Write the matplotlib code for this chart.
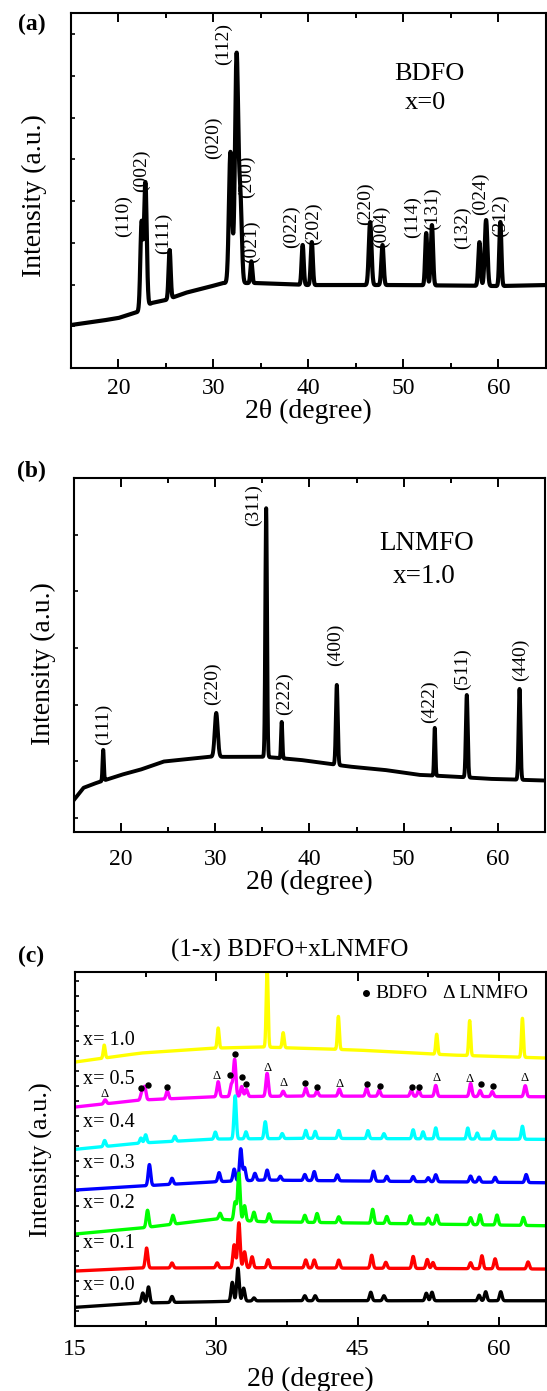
import numpy as np
import matplotlib
matplotlib.use('Agg')
import matplotlib.pyplot as plt
from matplotlib.ticker import MultipleLocator

plt.rcParams['font.family'] = ['Liberation Serif', 'DejaVu Serif']

# 2theta sampling of the patterns
two_theta = np.arange(15, 65.001, 0.01)

# ---------------- (a) BDFO, x = 0 ----------------
a_base_x = [15, 18, 20, 22, 23.5, 25, 27, 29.5, 31, 34.5, 40, 50, 60, 65]
a_base_y = [1031, 1127, 1199, 1343, 1559, 1631, 1799, 1942, 2038, 2038, 1990, 1990, 1966, 1990]
a_pos = [22.45, 22.85, 25.4, 31.8, 32.45, 32.85, 34.0, 39.4, 40.36, 46.5, 47.8, 52.4, 53.0, 58.0, 58.7, 60.2]
a_h = [2069, 2977, 1165, 3142, 5468, 1900, 520, 955, 1030, 1510, 960, 1252, 1445, 1048, 1580, 1534]
a_w = [0.13, 0.14, 0.11, 0.16, 0.17, 0.15, 0.1, 0.11, 0.11, 0.14, 0.12, 0.11, 0.12, 0.12, 0.14, 0.11]
a_hkl = ['(110)', '(002)', '(111)', '(020)', '(112)', '(200)', '(021)', '(022)', '(202)',
         '(220)', '(004)', '(114)', '(131)', '(132)', '(024)', '(312)']
a_hkl_x = [20.5, 22.46, 24.74, 30.0, 31.05, 33.44, 34.04, 38.25, 40.53, 45.97, 47.7, 50.95, 53.1, 56.2, 58.1, 60.2]
a_hkl_y = [3645, 4724, 3237, 5516, 7770, 4580, 3022, 3381, 3465, 3945, 3381, 3628, 3820, 3357, 4189, 3650]

# ---------------- (b) LNMFO, x = 1.0 ----------------
b_base_x = [15, 16, 17.1, 20, 22, 24.5, 29.4, 35.3, 39, 44.2, 47.9, 51.6, 55.3, 59, 65]
b_base_y = [317, 529, 600, 758, 847, 993, 1076, 1076, 1023, 905, 847, 758, 728, 688, 658]
b_pos = [18.1, 30.1, 35.4, 37.05, 42.9, 53.3, 56.7, 62.3]
b_h = [545, 776, 4391, 642, 1412, 843, 1456, 1604]
b_w = [0.07, 0.16, 0.09, 0.07, 0.1, 0.07, 0.1, 0.1]
b_hkl = ['(111)', '(220)', '(311)', '(222)', '(400)', '(422)', '(511)', '(440)']
b_hkl_x = [18.14, 29.73, 34.0, 37.33, 42.78, 52.69, 56.22, 62.35]
b_hkl_y = [1658, 2363, 5520, 2187, 3051, 2046, 2628, 2787]

# ---------------- (c) (1-x) BDFO + x LNMFO ----------------
c_labels = ['x= 1.0', 'x= 0.5', 'x= 0.4', 'x= 0.3', 'x= 0.2', 'x= 0.1', 'x= 0.0']
c_colors = ['#ffff00', '#ff00ff', '#00ffff', '#0000ff', '#00ff00', '#ff0000', '#000000']
c_label_y = [286, 246.5, 204, 163, 123, 83, 41]

c_base_x = [
    [15, 22, 30, 35, 45, 55, 65],
    [15, 22, 30, 40, 65],
    [15, 22, 30, 40, 65],
    [15, 22, 30, 35, 45, 65],
    [15, 22, 30, 35, 45, 65],
    [15, 22, 35, 65],
    [15, 22, 35, 65],
]
c_base_y = [
    [264, 273, 278, 279, 276, 271, 268],
    [219, 226, 229.3, 230, 229.3],
    [176.7, 183, 187, 187.7, 186.7],
    [136, 140, 144.3, 146, 145, 143.3],
    [92, 98, 107, 104.3, 103, 100.3],
    [55, 58, 58.3, 57],
    [18.7, 23, 25.3, 25.3],
]
c_pos = [
    [18.1, 30.2, 35.4, 37.1, 42.96, 53.4, 56.9, 62.5],
    [18.2, 22.1, 22.4, 24.8, 30.2, 31.6, 31.95, 32.7, 33.2, 35.4, 37.1, 39.5, 40.7, 43.06,
     45.96, 47.3, 50.7, 51.5, 53.3, 57.0, 58.0, 59.3, 62.8],
    [18.15, 22.0, 22.5, 25.6, 29.9, 32.0, 33.15, 35.2, 37.0, 39.5, 40.5, 43.0, 46.1, 47.8,
     50.9, 51.95, 53.3, 56.7, 57.7, 59.45, 62.5],
    [22.9, 25.3, 30.3, 31.9, 32.6, 33.0, 34.1, 35.4, 36.8, 39.4, 40.4, 42.85, 46.7, 48.1,
     50.9, 52.5, 53.3, 57.0, 57.9, 59.6, 62.9],
    [22.7, 25.4, 30.4, 32.0, 32.4, 33.0, 34.0, 35.6, 39.4, 40.7, 43.0, 46.6, 48.1, 50.6,
     52.5, 53.4, 57.0, 58.0, 59.8, 62.6],
    [22.6, 25.3, 30.1, 31.9, 32.4, 33.0, 33.8, 35.5, 39.5, 40.4, 43.0, 46.5, 48.0, 50.9,
     52.4, 53.0, 57.0, 58.2, 59.6, 63.1],
    [22.2, 22.8, 25.3, 31.7, 32.3, 32.9, 34.0, 39.4, 40.5, 46.4, 47.8, 52.3, 52.9, 57.9, 58.6, 60.2],
]
c_h = [
    [13, 20, 80, 15, 33, 20, 35, 39],
    [4, 8, 13, 8, 15, 12, 37, 10, 7, 23, 5, 8, 5, 7, 8, 6, 6, 6, 11, 13, 6, 5, 11],
    [6, 5, 8, 5, 7, 43, 7, 17, 5, 8, 7, 8, 8, 5, 9, 7, 11, 11, 6, 8, 13],
    [21, 6, 9, 12, 32, 13, 7, 10, 4, 6, 9, 6, 10, 5, 5, 4, 7, 6, 5, 5, 8],
    [17, 9, 6, 18, 47, 15, 9, 8, 7, 9, 6, 14, 7, 8, 6, 9, 7, 10, 10, 8],
    [20, 5, 5, 23, 45, 16, 11, 8, 8, 8, 8, 13, 6, 12, 9, 6, 6, 13, 10, 7],
    [10, 16, 6, 19, 33, 13, 3, 5, 5, 8.5, 5, 7.5, 8.5, 5.5, 9, 9],
]
c_w = [0.1, 0.13, 0.12, 0.13, 0.13, 0.13, 0.13]

# phase markers on the x = 0.5 pattern
bdfo_dot_x = [22.01, 22.72, 24.8, 31.45, 31.98, 32.69, 33.15, 39.42, 40.73, 45.97, 47.38, 50.74, 51.55, 58.06, 59.4]
bdfo_dot_y = [238.3, 241, 239.3, 251, 272, 248.7, 241.7, 243.3, 239.3, 241.7, 240, 239.3, 239.3, 241.7, 240]
lnmfo_tri_x = [18.18, 30.04, 35.41, 37.11, 43.06, 53.4, 56.93, 62.7]
lnmfo_tri_y = [232, 250, 258, 243, 242, 248.3, 246.7, 247.7]


def pattern(bx, by, pos, h, w):
    y = np.interp(two_theta, bx, by)
    for p, hh, ww in zip(pos, h, np.broadcast_to(w, len(pos))):
        y = y + hh * np.exp(-0.5 * ((two_theta - p) / ww) ** 2)
    return y


def style_axes(ax, major, minor, pad):
    for s in ax.spines.values():
        s.set_linewidth(1.5)
    ax.set_xlim(15, 65)
    ax.xaxis.set_major_locator(MultipleLocator(major))
    ax.xaxis.set_minor_locator(MultipleLocator(minor))
    ax.tick_params(axis='x', which='major', direction='in', length=6.5, width=1.4,
                   top=True, labelsize=17, pad=pad)
    ax.tick_params(axis='x', which='minor', direction='in', length=3.5, width=1.4, top=True)
    ax.tick_params(axis='y', which='both', direction='in', length=3, width=1.2,
                   labelleft=False, right=False)


fig = plt.figure(figsize=(5.47, 13.91), dpi=100)

# ---- (a)
ax1 = fig.add_axes([0.1294, 0.7354, 0.8687, 0.2552])
ax1.plot(two_theta, pattern(a_base_x, a_base_y, a_pos, a_h, a_w), color='black', lw=3.0)
ax1.set_ylim(0, 8510)
ax1.yaxis.set_major_locator(MultipleLocator(1000))
style_axes(ax1, 10, 5, 7)
for t, x, y in zip(a_hkl, a_hkl_x, a_hkl_y):
    ax1.text(x, y, t, rotation=90, ha='center', va='center', fontsize=14)
ax1.text(52.7, 7050, 'BDFO', ha='center', va='center', fontsize=19)
ax1.text(52.3, 6355, 'x=0', ha='center', va='center', fontsize=19)
ax1.set_xlabel('2θ (degree)', fontsize=20, labelpad=0)
ax1.set_ylabel('Intensity (a.u.)', fontsize=20)
ax1.yaxis.set_label_coords(-0.05, 0.485)

# ---- (b)
ax2 = fig.add_axes([0.1353, 0.4019, 0.861, 0.2545])
ax2.plot(two_theta, pattern(b_base_x, b_base_y, b_pos, b_h, b_w), color='black', lw=2.8)
ax2.set_ylim(-250, 6000)
ax2.yaxis.set_major_locator(MultipleLocator(1000))
style_axes(ax2, 10, 5, 12)
for t, x, y in zip(b_hkl, b_hkl_x, b_hkl_y):
    ax2.text(x, y, t, rotation=90, ha='center', va='center', fontsize=14)
ax2.text(52.4, 4850, 'LNMFO', ha='center', va='center', fontsize=19.5)
ax2.text(52.15, 4268, 'x=1.0', ha='center', va='center', fontsize=19.5)
ax2.set_xlabel('2θ (degree)', fontsize=20, labelpad=0)
ax2.set_ylabel('Intensity (a.u.)', fontsize=20)
ax2.yaxis.set_label_coords(-0.038, 0.475)

# ---- (c)
ax3 = fig.add_axes([0.1371, 0.0467, 0.861, 0.2547])
for i in range(len(c_labels)):
    y = pattern(c_base_x[i], c_base_y[i], c_pos[i], c_h[i], c_w[i])
    ax3.plot(two_theta, y, color=c_colors[i], lw=2.4)
    ax3.text(15.85, c_label_y[i], c_labels[i], ha='left', va='center', fontsize=14.5)
ax3.set_ylim(0, 354.3)
ax3.yaxis.set_major_locator(MultipleLocator(45))
ax3.yaxis.set_minor_locator(MultipleLocator(15))
style_axes(ax3, 15, 7.5, 9)
ax3.plot(bdfo_dot_x, bdfo_dot_y, 'o', color='black', ms=3.6)
for x, y in zip(lnmfo_tri_x, lnmfo_tri_y):
    ax3.text(x, y, 'Δ', ha='center', va='center', fontsize=9)
ax3.plot([45.85], [332.7], 'o', color='black', ms=4)
ax3.text(46.85, 332.7, 'BDFO', ha='left', va='center', fontsize=14)
ax3.text(54.07, 332.7, 'Δ LNMFO', ha='left', va='center', fontsize=14)
ax3.set_xlabel('2θ (degree)', fontsize=20, labelpad=5)
ax3.set_ylabel('Intensity (a.u.)', fontsize=19)
ax3.yaxis.set_label_coords(-0.047, 0.469)

# panel letters and title
fig.text(31.4 / 547, 1 - 24 / 1391, '(a)', ha='center', va='center', fontsize=17, fontweight='bold')
fig.text(31.4 / 547, 1 - 471 / 1391, '(b)', ha='center', va='center', fontsize=17, fontweight='bold')
fig.text(31.4 / 547, 1 - 956 / 1391, '(c)', ha='center', va='center', fontsize=17, fontweight='bold')
fig.text(290 / 547, 1 - 950 / 1391, '(1-x) BDFO+xLNMFO', ha='center', va='center', fontsize=18)

fig.savefig('out.png', dpi=100)
